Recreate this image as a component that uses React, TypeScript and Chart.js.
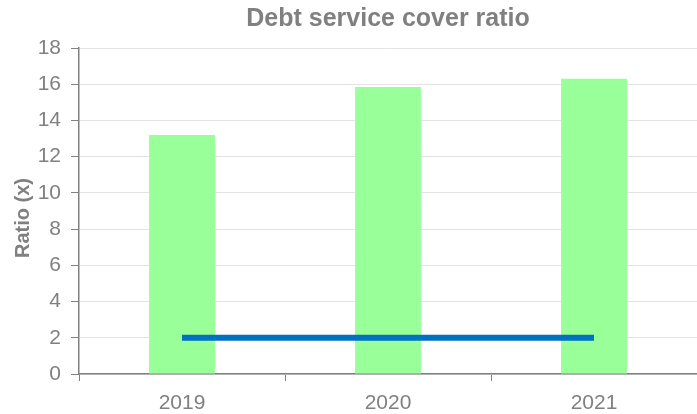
import React, { useEffect, useRef } from "react";
import { Chart, registerables } from "chart.js";

Chart.register(...registerables);

const categories = ["2019", "2020", "2021"];
const ratioValues = [13.2, 15.85, 16.3];
const covenantValues = [2, 2, 2];
const yTicksMin = 0;
const yTicksMax = 18;
const yTickStep = 2;
const chartTitle = "Debt service cover ratio";
const yAxisTitle = "Ratio (x)";

const GRAY = "#808080";
const FONT = "'Liberation Sans', Arial, sans-serif";

const titlesPlugin = {
  id: "titlesPlugin",
  afterDraw(chart: any) {
    const ctx = chart.ctx;
    const area = chart.chartArea;
    ctx.save();
    ctx.font = `bold 25px ${FONT}`;
    ctx.fillStyle = GRAY;
    ctx.textAlign = "center";
    ctx.textBaseline = "middle";
    ctx.fillText(chartTitle, (area.left + area.right) / 2, 19);
    ctx.restore();

    ctx.save();
    ctx.translate(23, (area.top + area.bottom) / 2 + 7);
    ctx.rotate(-Math.PI / 2);
    ctx.font = `bold 20px ${FONT}`;
    ctx.fillStyle = GRAY;
    ctx.textAlign = "center";
    ctx.textBaseline = "middle";
    ctx.fillText(yAxisTitle, 0, 0);
    ctx.restore();
  },
};

export default function App() {
  const ref = useRef<HTMLCanvasElement>(null);
  useEffect(() => {
    if (!ref.current) return;
    const chart = new Chart(ref.current, {
      type: "bar",
      data: {
        labels: categories,
        datasets: [
          {
            type: "line",
            label: "Covenant",
            data: covenantValues,
            borderColor: "#0070C0",
            backgroundColor: "#0070C0",
            borderWidth: 6,
            pointRadius: 0,
            borderCapStyle: "butt",
            order: 0,
          } as any,
          {
            type: "bar",
            label: "DSCR",
            data: ratioValues,
            backgroundColor: "#99FF99",
            borderWidth: 0,
            barPercentage: 0.32,
            categoryPercentage: 1,
            order: 1,
          },
        ],
      },
      options: {
        animation: false,
        responsive: false,
        maintainAspectRatio: false,
        layout: { padding: { top: 48, left: 0, right: 0, bottom: 0 } },
        plugins: {
          legend: { display: false },
          tooltip: { enabled: false },
          title: { display: false },
        },
        scales: {
          x: {
            offset: true,
            grid: {
              offset: true,
              drawOnChartArea: false,
              color: GRAY,
              tickColor: GRAY,
              tickLength: 7,
            },
            border: { color: GRAY, width: 1.5 },
            ticks: {
              color: GRAY,
              padding: 10,
              font: { family: FONT, size: 21 },
            },
            afterFit(scale: any) {
              scale.height = 40;
            },
          },
          y: {
            min: yTicksMin,
            max: yTicksMax,
            grid: {
              color: "#e3e3e3",
              tickColor: GRAY,
              tickLength: 8,
            },
            border: { color: GRAY, width: 1.5 },
            ticks: {
              stepSize: yTickStep,
              color: GRAY,
              padding: 10,
              font: { family: FONT, size: 21 },
            },
            afterFit(scale: any) {
              scale.width = 79;
            },
          },
        },
      },
      plugins: [titlesPlugin],
    });
    return () => chart.destroy();
  }, []);
  return (
    <div style={{ position: "fixed", left: 0, top: 0, width: 697, height: 414, background: "#fff" }}>
      <canvas ref={ref} width={697} height={414} style={{ width: 697, height: 414 }} />
    </div>
  );
}
